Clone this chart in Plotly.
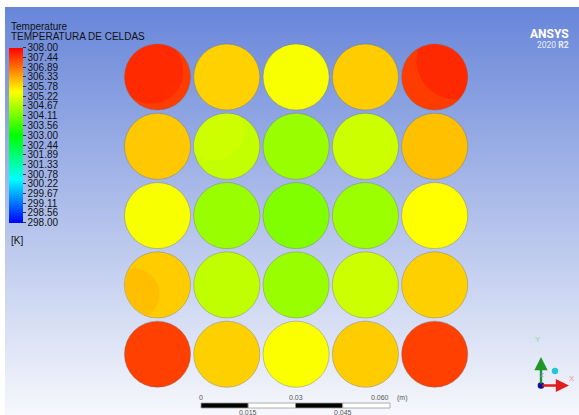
import numpy as np
import plotly.graph_objects as go
from plotly.colors import sample_colorscale

# ---- data -------------------------------------------------------------
# Cell temperatures [K], one list per row of the 5x5 pack (top row first)
ROW_1 = [307.41, 305.95, 305.43, 306.00, 307.41]
ROW_2 = [306.04, 304.92, 304.50, 305.00, 306.12]
ROW_3 = [305.42, 304.50, 304.25, 304.52, 305.50]
ROW_4 = [306.00, 304.87, 304.50, 305.00, 305.96]
ROW_5 = [307.37, 305.96, 305.46, 306.00, 307.37]
ROWS = [ROW_1, ROW_2, ROW_3, ROW_4, ROW_5]

# Hotter / cooler zones inside some cells: (row, col) and their temperature
ZONE_CELLS = [(0, 0), (0, 4), (1, 1), (3, 0)]
ZONE_TEMPS = [307.59, 307.60, 305.02, 306.13]

T_MIN, T_MAX = 298.0, 308.0
LEGEND_LABELS = ["308.00", "307.44", "306.89", "306.33", "305.78", "305.22",
                 "304.67", "304.11", "303.56", "303.00", "302.44", "301.89",
                 "301.33", "300.78", "300.22", "299.67", "299.11", "298.56",
                 "298.00"]
SCALE_TICKS = [0.0, 0.015, 0.03, 0.045, 0.06]          # metres
SCALE_TOP_LABELS = ["0", "0.03", "0.060"]
SCALE_BOTTOM_LABELS = ["0.015", "0.045"]

# ---- geometry / style -------------------------------------------------
W, H = 579, 415
ML, MT = 5, 7
PX_PER_M = 3150.0
PITCH = 0.022            # cell spacing [m]
DIAM = 0.021             # cell diameter [m]
X_LEFT = -(157.5 - ML) / PX_PER_M
Y_TOP = (77.0 - MT) / PX_PER_M
X_RIGHT = X_LEFT + (W - ML) / PX_PER_M
Y_BOTTOM = Y_TOP - (H - MT) / PX_PER_M

# zone shapes: centre offset (in cell radii, y up) and radius (in cell radii)
ZONE_GEOM = [(-0.20, 0.17, 0.98), (0.64, 0.51, 1.19),
             (-0.40, 0.47, 0.91), (-0.71, -0.28, 0.77)]

RAINBOW = [[0.0, "rgb(0,0,255)"], [0.25, "rgb(0,255,255)"],
           [0.5, "rgb(0,255,0)"], [0.75, "rgb(255,255,0)"],
           [1.0, "rgb(255,0,0)"]]
PLAIN = "Liberation Sans, Arial, sans-serif"
LOGO = "Roboto, Liberation Sans, Arial, sans-serif"


def t_color(t):
    return sample_colorscale(RAINBOW, [(t - T_MIN) / (T_MAX - T_MIN)])[0]


def cell_center(r, c):
    return c * PITCH, -r * PITCH


def zone_path(cx, cy, R, ox, oy, rr, n=160):
    """Intersection of the cell disc with an offset disc, as an SVG path."""
    px, py = cx + ox * R, cy + oy * R
    a = np.linspace(0, 2 * np.pi, n, endpoint=False)
    xs = px + rr * R * np.cos(a)
    ys = py + rr * R * np.sin(a)
    dx, dy = xs - cx, ys - cy
    d = np.hypot(dx, dy)
    lim = R - 0.4 / PX_PER_M
    k = np.where(d > lim, lim / d, 1.0)
    xs, ys = cx + dx * k, cy + dy * k
    pts = " L ".join(f"{x:.6f},{y:.6f}" for x, y in zip(xs, ys))
    return "M " + pts + " Z"


def px2paper(x, y):
    return (x - ML) / (W - ML), (H - y) / (H - MT)


fig = go.Figure()

# background: vertical blue-to-white gradient
fig.add_trace(go.Heatmap(
    x=[X_LEFT, X_RIGHT], y=[Y_BOTTOM, Y_TOP], z=[[0, 0], [1, 1]],
    zsmooth="best", showscale=False, hoverinfo="skip",
    colorscale=[[0, "rgb(247,248,252)"], [1, "rgb(104,134,217)"]]))

# cell centres carry the temperatures for the colour legend
xs, ys, ts = [], [], []
for r, row in enumerate(ROWS):
    for c, t in enumerate(row):
        x, y = cell_center(r, c)
        xs.append(x); ys.append(y); ts.append(t)
fig.add_trace(go.Scatter(
    x=xs, y=ys, mode="markers", showlegend=False,
    marker=dict(size=40, color=ts, coloraxis="coloraxis", opacity=0),
    hovertemplate="%{marker.color:.2f} K<extra></extra>"))

shapes = []
R = DIAM / 2
for r, row in enumerate(ROWS):
    for c, t in enumerate(row):
        x, y = cell_center(r, c)
        shapes.append(dict(type="circle", xref="x", yref="y",
                           x0=x - R, x1=x + R, y0=y - R, y1=y + R,
                           fillcolor=t_color(t),
                           line=dict(color="rgba(110,110,110,0.55)", width=0.7)))
for (r, c), t, (ox, oy, rr) in zip(ZONE_CELLS, ZONE_TEMPS, ZONE_GEOM):
    x, y = cell_center(r, c)
    shapes.append(dict(type="path", xref="x", yref="y",
                       path=zone_path(x, y, R, ox, oy, rr),
                       fillcolor=t_color(t), line=dict(width=0)))

# length scale bar
SB_X0 = (201 - 157.5) / PX_PER_M
SB_TOP = (77 - 403) / PX_PER_M
SB_BOT = (77 - 408) / PX_PER_M
for k in range(len(SCALE_TICKS) - 1):
    shapes.append(dict(type="rect", xref="x", yref="y",
                       x0=SB_X0 + SCALE_TICKS[k], x1=SB_X0 + SCALE_TICKS[k + 1],
                       y0=SB_BOT, y1=SB_TOP,
                       fillcolor="black" if k % 2 == 0 else "white",
                       line=dict(color="#9a9a9a", width=0.8)))


# coordinate triad
def circ_px(cx, cy, rad, color):
    x0, y0 = px2paper(cx - rad, cy + rad)
    x1, y1 = px2paper(cx + rad, cy - rad)
    return dict(type="circle", xref="paper", yref="paper", x0=x0, x1=x1,
                y0=y0, y1=y1, fillcolor=color, line=dict(width=0))


shapes.append(circ_px(555, 371, 3.2, "rgb(30,200,215)"))

annotations = []
tx, ty = px2paper(541, 357)
annotations.append(dict(x=tx, y=ty, xref="paper", yref="paper", ax=0, ay=28,
                        showarrow=True, arrowhead=2, arrowsize=1.1,
                        arrowwidth=2.4, arrowcolor="rgb(30,150,40)", text=""))
tx, ty = px2paper(569, 385.5)
annotations.append(dict(x=tx, y=ty, xref="paper", yref="paper", ax=-28, ay=0,
                        showarrow=True, arrowhead=2, arrowsize=1.1,
                        arrowwidth=2.4, arrowcolor="rgb(225,30,30)", text=""))
shapes.append(circ_px(541, 385.5, 3.3, "rgb(15,15,150)"))
for txt, px, py, col in [("Y", 543, 345.5, "rgb(150,210,150)"),
                         ("X", 577, 385, "rgb(240,150,150)"),
                         ("Z", 546, 379.5, "rgb(140,140,220)")]:
    ax_, ay_ = px2paper(px, py)
    annotations.append(dict(x=ax_, y=ay_, xref="paper", yref="paper",
                            text=txt, showarrow=False,
                            font=dict(family=PLAIN, size=8 if txt != "Z" else 6,
                                      color=col)))

# scale bar labels
for lbl, tick in zip(SCALE_TOP_LABELS, [SCALE_TICKS[0], SCALE_TICKS[2], SCALE_TICKS[4]]):
    annotations.append(dict(x=SB_X0 + tick + (1 / PX_PER_M if lbl == "0.060" else 0),
                            y=(77 - 397.5) / PX_PER_M,
                            xref="x", yref="y", text=lbl, showarrow=False,
                            xanchor="right" if lbl == "0.060" else "center",
                            font=dict(family=PLAIN, size=7, color="#555")))
annotations.append(dict(x=SB_X0 + SCALE_TICKS[-1] + 5 / PX_PER_M,
                        y=(77 - 397.5) / PX_PER_M, xref="x", yref="y",
                        text="(m)", showarrow=False, xanchor="left",
                        font=dict(family=PLAIN, size=7, color="#555")))
for lbl, tick in zip(SCALE_BOTTOM_LABELS, [SCALE_TICKS[1], SCALE_TICKS[3]]):
    annotations.append(dict(x=SB_X0 + tick, y=(77 - 412) / PX_PER_M,
                            xref="x", yref="y", text=lbl, showarrow=False,
                            font=dict(family=PLAIN, size=7, color="#555")))

# legend titles and unit
for txt, py in [("Temperature", 26.5), ("TEMPERATURA DE CELDAS", 36.5), ("[K]", 240)]:
    ax_, ay_ = px2paper(8.5, py)
    annotations.append(dict(x=ax_, y=ay_, xref="paper", yref="paper", text=txt,
                            showarrow=False, xanchor="left", yanchor="middle",
                            font=dict(family=PLAIN, size=10, color="#111")))

# product logo
ax_, ay_ = px2paper(571, 25.5)
annotations.append(dict(x=ax_, y=ay_, xref="paper", yref="paper",
                        text="<b>ANSYS</b>", showarrow=False, xanchor="right",
                        font=dict(family=LOGO, size=12, color="white")))
ax_, ay_ = px2paper(571, 38.5)
annotations.append(dict(x=ax_, y=ay_, xref="paper", yref="paper",
                        text="2020 <b>R2</b>", showarrow=False, xanchor="right",
                        font=dict(family=LOGO, size=8.5, color="rgb(235,238,250)")))

cb_x, cb_y = px2paper(8.5, 47.7)
fig.update_layout(
    width=W, height=H, autosize=False,
    margin=dict(l=ML, r=0, t=MT, b=0, pad=0),
    paper_bgcolor="white", plot_bgcolor="rgba(0,0,0,0)",
    showlegend=False,
    xaxis=dict(range=[X_LEFT, X_RIGHT], visible=False, fixedrange=True),
    yaxis=dict(range=[Y_BOTTOM, Y_TOP], visible=False, fixedrange=True),
    shapes=shapes, annotations=annotations,
    coloraxis=dict(
        colorscale=RAINBOW, cmin=T_MIN, cmax=T_MAX,
        colorbar=dict(
            xref="paper", yref="paper",
            x=cb_x, xanchor="left", y=cb_y, yanchor="top",
            len=175, lenmode="pixels", thickness=14, thicknessmode="pixels",
            xpad=0, ypad=0, outlinewidth=0,
            tickvals=[float(v) for v in LEGEND_LABELS], ticktext=LEGEND_LABELS,
            ticks="outside", ticklen=3, tickwidth=1, tickcolor="#333",
            tickfont=dict(family=PLAIN, size=10, color="#111"),
        ),
    ),
)

fig.write_html("out.html")
